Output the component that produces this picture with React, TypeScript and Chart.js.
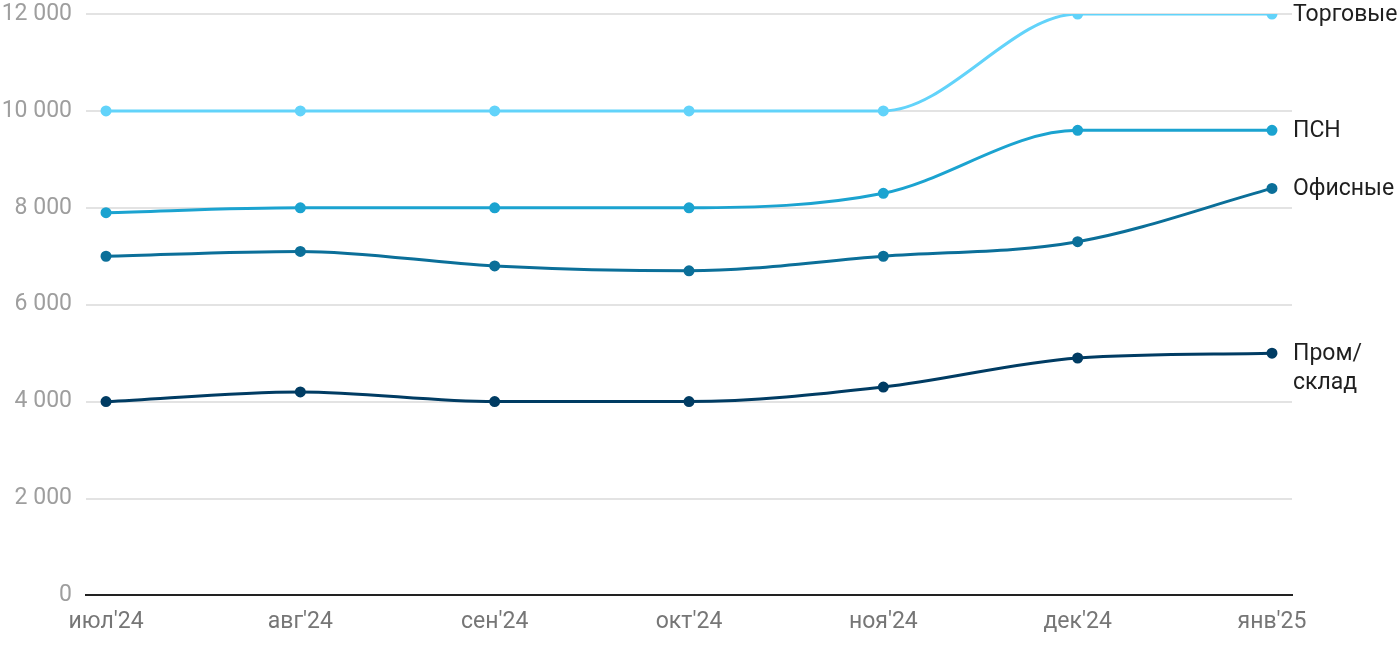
import React, { useEffect, useRef } from "react";
import { Chart, registerables } from "chart.js";

Chart.register(...registerables);

const categories = ["июл'24", "авг'24", "сен'24", "окт'24", "ноя'24", "дек'24", "янв'25"];
const seriesNames = ["Торговые", "ПСН", "Офисные", "Пром/\nсклад"];
const torgovye = [10000, 10000, 10000, 10000, 10000, 12000, 12000];
const psn = [7900, 8000, 8000, 8000, 8300, 9600, 9600];
const ofisnye = [7000, 7100, 6800, 6700, 7000, 7300, 8400];
const promSklad = [4000, 4200, 4000, 4000, 4300, 4900, 5000];
const yTicks = [0, 2000, 4000, 6000, 8000, 10000, 12000];
const colors = ["#62d3fa", "#1ba3d0", "#0b6f99", "#003c63"];

const FONT = "Roboto, 'Noto Sans', sans-serif";

const endLabels = {
  id: "endLabels",
  afterDatasetsDraw(chart: any) {
    const ctx = chart.ctx;
    ctx.save();
    ctx.font = `23px ${FONT}`;
    ctx.fillStyle = "#1f1f1f";
    ctx.textAlign = "left";
    ctx.textBaseline = "middle";
    chart.data.datasets.forEach((ds: any, i: number) => {
      const meta = chart.getDatasetMeta(i);
      const pt = meta.data[meta.data.length - 1];
      const lines = String(ds.label).split("\n");
      const lh = 29;
      lines.forEach((ln: string, k: number) => {
        ctx.fillText(ln, pt.x + 21, pt.y + 1 + k * lh);
      });
    });
    ctx.restore();
  },
};

export default function App() {
  const ref = useRef<HTMLCanvasElement>(null);
  useEffect(() => {
    const mk = (arr: number[]) => arr.map((v, i) => ({ x: i, y: v }));
    const all = [torgovye, psn, ofisnye, promSklad];
    const chart = new Chart(ref.current!, {
      type: "line",
      data: {
        datasets: all.map((arr, i) => ({
          label: seriesNames[i],
          data: mk(arr),
          borderColor: colors[i],
          backgroundColor: colors[i],
          borderWidth: 3,
          pointRadius: 4,
          pointHoverRadius: 4,
          cubicInterpolationMode: "monotone" as const,
          fill: false,
        })),
      },
      options: {
        animation: false,
        responsive: false,
        maintainAspectRatio: false,
        layout: { padding: { top: 14, right: 108, left: 0, bottom: 1 } },
        plugins: { legend: { display: false }, tooltip: { enabled: false } },
        scales: {
          x: {
            type: "linear",
            min: -0.103,
            max: 6.103,
            afterBuildTicks: (axis: any) => {
              axis.ticks = categories.map((_, i) => ({ value: i }));
            },
            grid: { display: false, drawTicks: false },
            border: { display: true, color: "#222", width: 2 },
            ticks: {
              color: "#767676",
              font: { size: 23, family: FONT },
              padding: 13,
              maxRotation: 0,
              autoSkip: false,
              callback: (v: any) => categories[Math.round(Number(v))] ?? "",
            },
          },
          y: {
            min: 0,
            max: 12000,
            afterBuildTicks: (axis: any) => {
              axis.ticks = yTicks.map((v) => ({ value: v }));
            },
            afterFit: (axis: any) => {
              axis.width = 86;
              axis.paddingTop = 0;
              axis.paddingBottom = 0;
            },
            grid: { color: "#e3e3e3", lineWidth: 2, drawTicks: false },
            border: { display: false },
            ticks: {
              color: "#9e9e9e",
              font: { size: 23, family: FONT },
              padding: 14,
              callback: (v: any) => String(v).replace(/\B(?=(\d{3})+(?!\d))/g, " "),
            },
          },
        },
      },
      plugins: [endLabels],
    });
    return () => chart.destroy();
  }, []);
  return (
    <div style={{ position: "fixed", left: 0, top: 0, width: 1400, height: 650, background: "#fff" }}>
      <canvas ref={ref} width={1400} height={650} style={{ width: 1400, height: 650 }} />
    </div>
  );
}
